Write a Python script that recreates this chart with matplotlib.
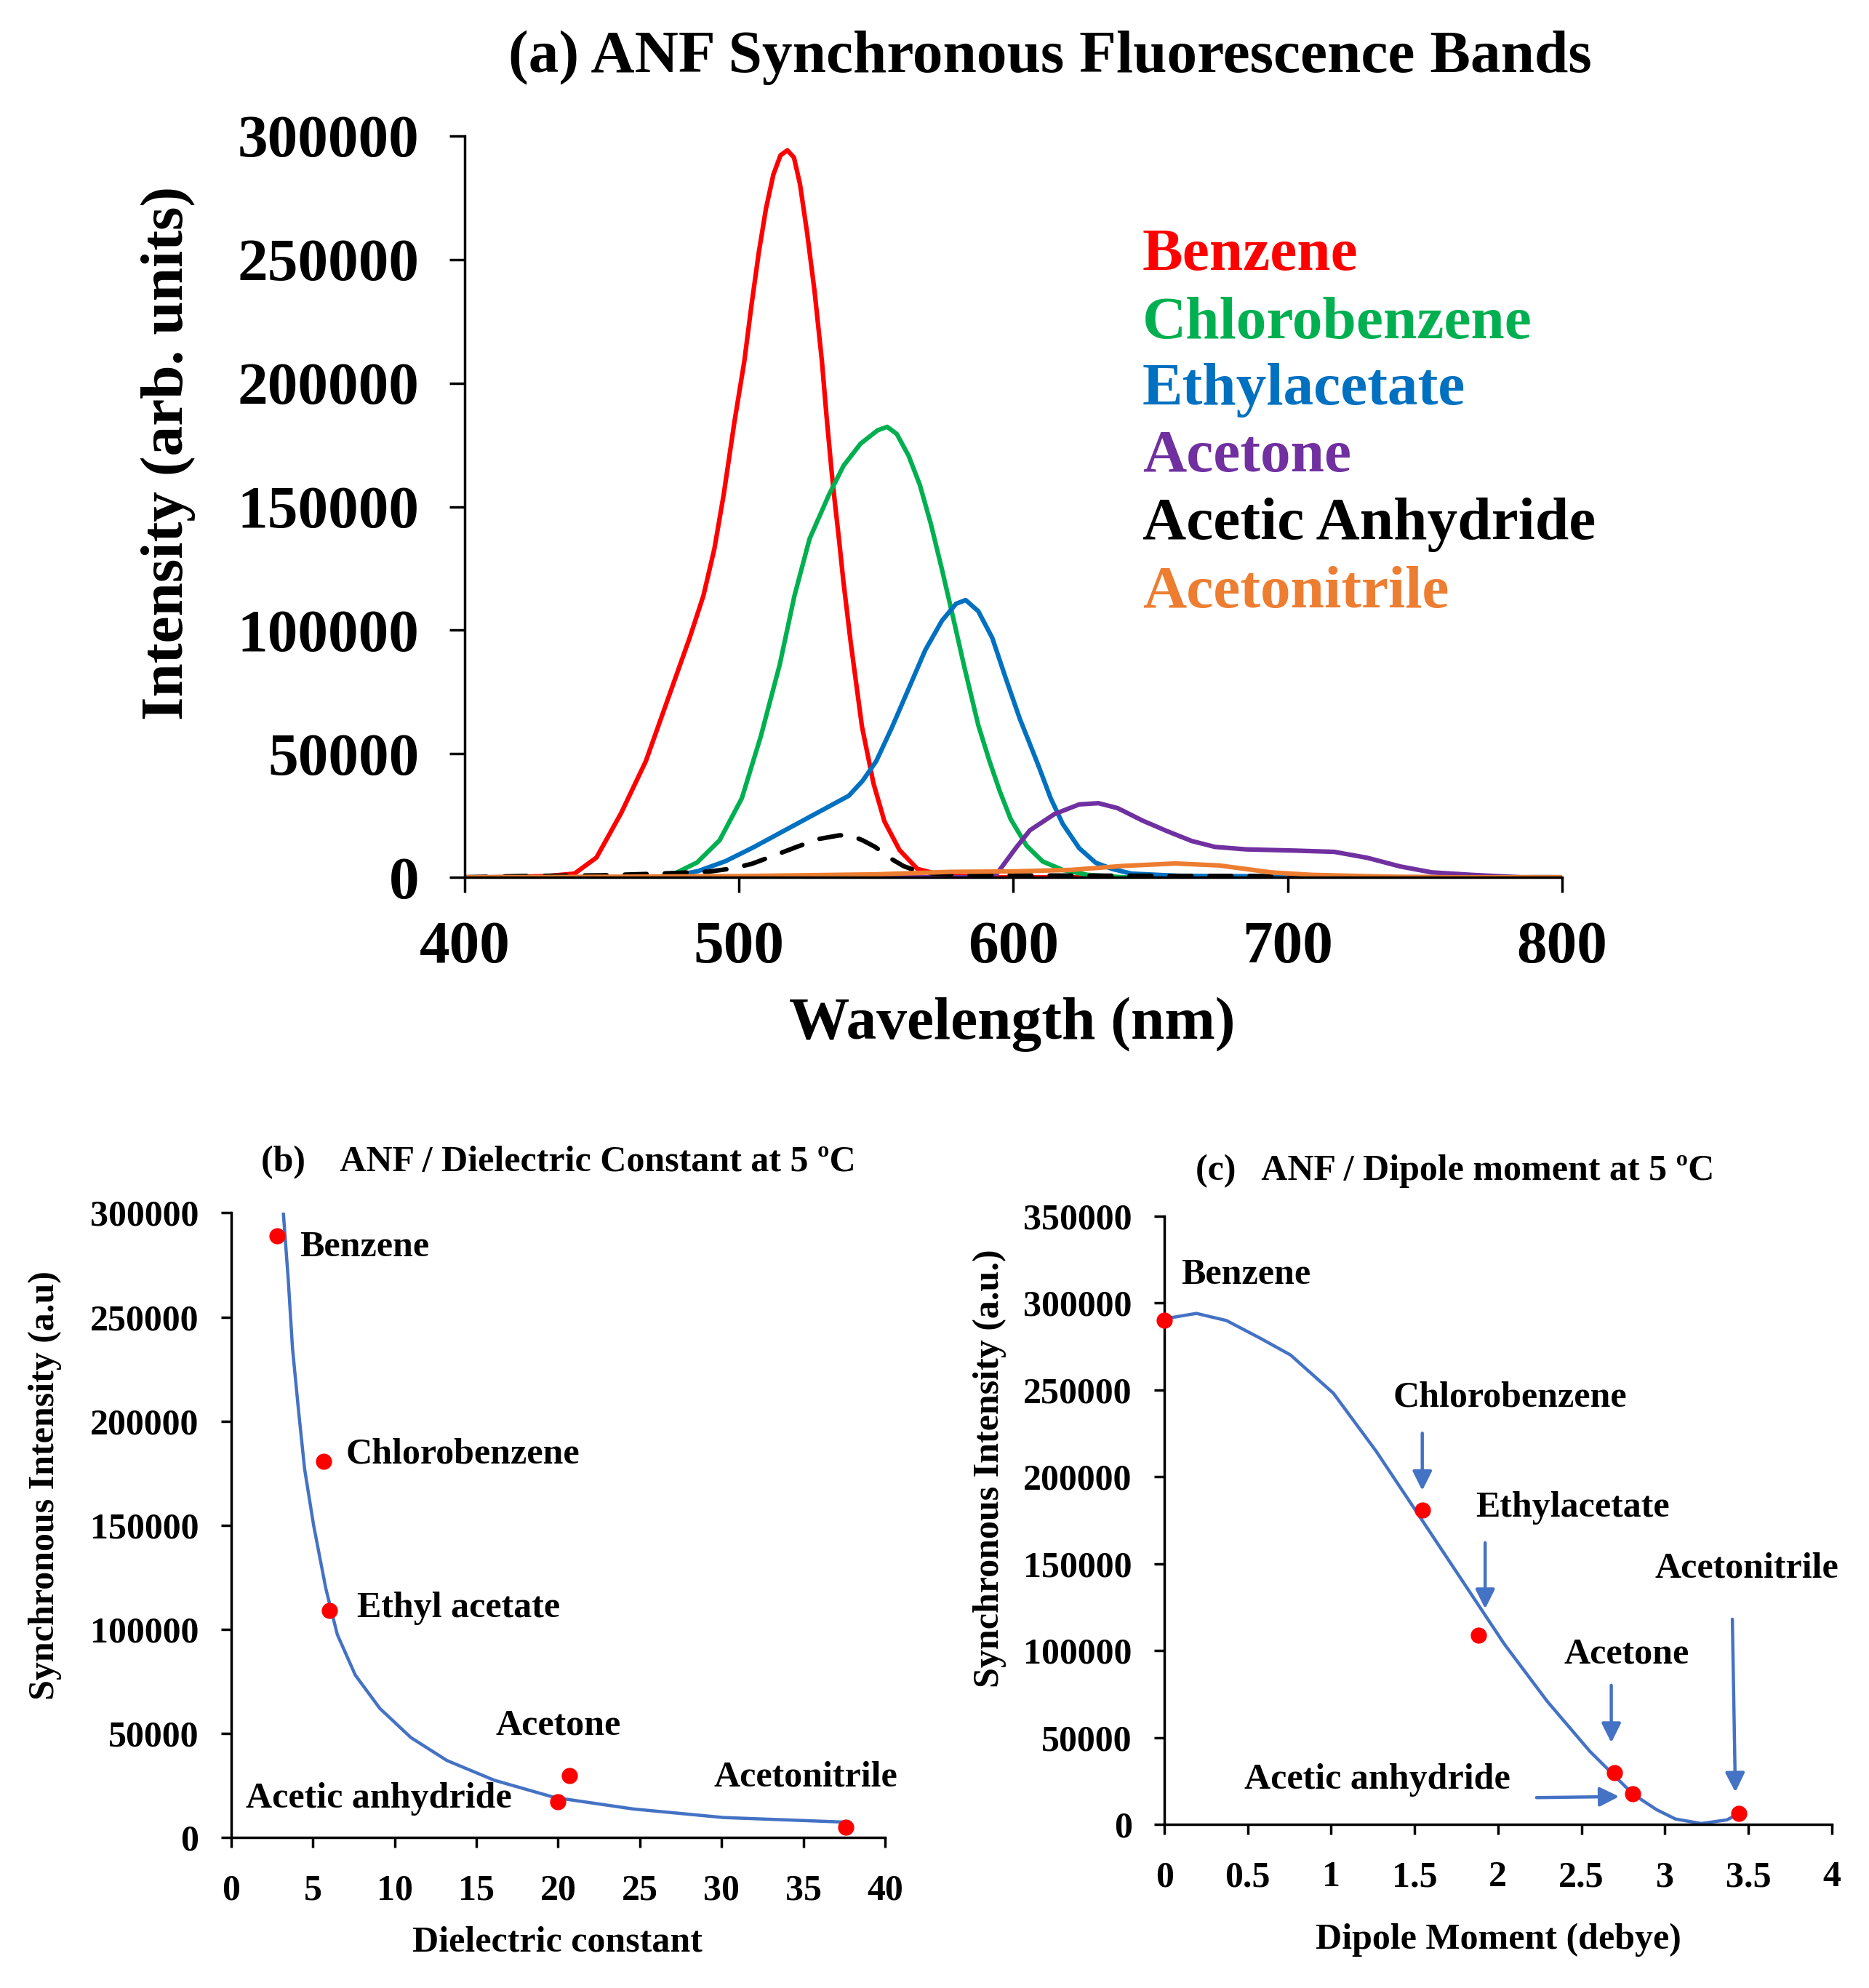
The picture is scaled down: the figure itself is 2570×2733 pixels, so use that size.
import matplotlib
matplotlib.use('Agg')
import matplotlib.pyplot as plt
import numpy as np

plt.rcParams['font.family'] = ['Liberation Serif', 'DejaVu Serif']
plt.rcParams['font.weight'] = 'bold'

# (a) synchronous fluorescence bands
benz_wl = [400, 410, 430, 440, 448, 457, 466, 474, 482, 487, 491, 494.4, 498.3, 501.9, 504.5,
           507.2, 509.8, 512.5, 515.1, 517.6, 520.0, 522.2, 524.8, 527.5, 530.2, 531.9, 533.7,
           534.6, 536.5, 538, 540.7, 544.8, 549, 553, 558.5, 565, 573.5, 590, 800]
benz_int = [0, 0, 500, 1500, 8000, 26000, 47000, 72000, 97000, 114000, 133000, 155000, 184300,
            208800, 231400, 253000, 270600, 284400, 292200, 294200, 291300, 280500, 260800,
            237300, 208800, 186300, 164700, 154900, 136000, 120000, 95000, 61000, 38000, 22600,
            11000, 3400, 1000, 0, 0]

chlo_wl = [400, 470, 476.5, 484.7, 492.9, 501, 507.9, 514.8, 520.2, 525.7, 532.8, 538.1, 544.3,
           550.5, 554.0, 557.5, 561.8, 565.9, 569.9, 574.0, 578.1, 582.1, 587.2, 591.3, 595,
           599, 604.8, 610.7, 618, 627, 640, 800]
chlo_int = [0, 0, 1500, 6000, 15000, 32000, 57000, 86000, 114000, 137000, 154900, 166600,
            175500, 180900, 182300, 179400, 170600, 158800, 143100, 124400, 104800, 85200,
            61600, 47000, 35000, 23600, 12800, 6400, 3000, 1000, 0, 0]

ethy_wl = [400, 470, 476, 485, 495, 505, 515, 525, 535, 540, 545, 550, 555.7, 561.8, 567.9,
           574.0, 579.1, 582.6, 587.2, 592.3, 597.3, 602.4, 606, 609.2, 613.6, 618, 624, 630,
           636, 643, 660, 690, 700, 800]
ethy_int = [0, 0, 500, 2500, 6500, 12000, 18000, 24000, 30000, 33000, 39000, 47000, 60600,
            76300, 92000, 103900, 110700, 112200, 107700, 96900, 80300, 64000, 54000, 45000,
            32000, 21600, 11800, 5900, 3400, 1500, 600, 400, 0, 0]

acet_wl = [400, 590, 594, 601, 606, 615, 624, 631, 638, 647, 656, 665, 673.5, 685, 703, 717,
           729, 741, 752.5, 767, 785, 800]
acet_int = [0, 0, 1500, 12000, 19000, 25600, 29500, 30000, 28000, 23000, 18700, 14700, 12300,
            11300, 10800, 10300, 7900, 4400, 2000, 1000, 0, 0]

anhy_wl = [400, 420, 450, 471, 489, 497, 504.5, 512, 521, 529, 536.6, 541, 545, 549.6, 555.6,
           560, 565, 571, 590, 650, 690, 700, 800]
anhy_int = [0, 500, 800, 1500, 2300, 3500, 5400, 8500, 12300, 15500, 17000, 16800, 15000,
            12300, 7400, 4500, 2500, 1500, 800, 600, 500, 0, 0]

nitr_wl = [400, 450, 500, 550, 577, 600, 621, 640, 659, 675, 694, 708.6, 720, 740, 760, 800]
nitr_int = [0, 200, 500, 1200, 2200, 2400, 3000, 4600, 5600, 4800, 2000, 1000, 700, 200, 0, 0]

solvents_a = ['Benzene', 'Chlorobenzene', 'Ethylacetate', 'Acetone', 'Acetic Anhydride',
              'Acetonitrile']
colors_a = ['#FF0000', '#00B050', '#0070C0', '#7030A0', '#000000', '#ED7D31']

# (b) intensity vs dielectric constant
diel = [2.8, 5.65, 6.0, 20.7, 20.0, 37.6]
diel_int = [289000, 180500, 109000, 29700, 17000, 5000]
diel_fit_x = [3.2, 3.5, 3.76, 4.13, 4.5, 5.05, 5.8, 6.5, 7.6, 9.1, 11, 13.2, 16.1, 19.8, 24.6,
              30.1, 37.5]
diel_fit_y = [300000, 268000, 235000, 205000, 177000, 150000, 119500, 97500, 78000, 62000,
              48000, 37000, 27500, 19200, 13700, 9600, 7400]
labels_b = ['Benzene', 'Chlorobenzene', 'Ethyl acetate', 'Acetone', 'Acetic anhydride',
            'Acetonitrile']

# (c) intensity vs dipole moment
dip = [0.0, 1.546, 1.885, 2.697, 2.808, 3.444]
dip_int = [289800, 180800, 108900, 29800, 17500, 6200]
dip_fit_x = [0, 0.192, 0.372, 0.577, 0.756, 1.013, 1.269, 1.526, 1.782, 2.038, 2.295, 2.551,
             2.808, 2.95, 3.064, 3.218, 3.372, 3.449]
dip_fit_y = [290800, 293900, 289800, 279500, 270000, 248000, 214700, 177700, 140700, 103700,
             70800, 42000, 17500, 8500, 3100, 500, 2600, 6400]
labels_c = ['Benzene', 'Chlorobenzene', 'Ethylacetate', 'Acetone', 'Acetic anhydride',
            'Acetonitrile']

fig = plt.figure(figsize=(25.7, 27.33), dpi=100)


def style_axes(ax, lw, tlen, pad_x, pad_y, fsize):
    for s in ['top', 'right']:
        ax.spines[s].set_visible(False)
    for s in ['left', 'bottom']:
        ax.spines[s].set_linewidth(lw)
    ax.tick_params(axis='both', direction='out', width=lw, length=tlen, labelsize=fsize)
    ax.tick_params(axis='x', pad=pad_x)
    ax.tick_params(axis='y', pad=pad_y)
    for lab in ax.get_xticklabels() + ax.get_yticklabels():
        lab.set_fontweight('bold')


# ---------- (a) ----------
ax1 = fig.add_axes([0.2487, 0.5587, 0.587, 0.3729])
series = [(benz_wl, benz_int), (chlo_wl, chlo_int), (ethy_wl, ethy_int),
          (acet_wl, acet_int), (anhy_wl, anhy_int), (nitr_wl, nitr_int)]
for (wl, it), name, c in zip(series, solvents_a, colors_a):
    if name == 'Acetic Anhydride':
        ax1.plot(wl, it, color=c, lw=4.5, dashes=(4.8, 4.0), dash_capstyle='round')
    else:
        ax1.plot(wl, it, color=c, lw=4.5, solid_joinstyle='round')
ax1.set_xlim(400, 800)
ax1.set_ylim(0, 300000)
ax1.set_xticks(np.arange(400, 801, 100))
ax1.set_yticks(np.arange(0, 300001, 50000))
style_axes(ax1, 2.5, 15, 28, 30, 60)

leg_y = [251500, 224000, 197000, 170000, 142500, 115000]
for name, c, yy in zip(solvents_a, colors_a, leg_y):
    ax1.text(647, yy, name, color=c, fontsize=60, fontweight='bold', va='center', ha='left')

fig.text(0.5619, 0.9711, '(a) ANF Synchronous Fluorescence Bands', fontsize=60,
         fontweight='bold', ha='center', va='center')
fig.text(0.0899, 0.772, 'Intensity (arb. units)', fontsize=60, fontweight='bold',
         rotation=90, ha='center', va='center')
fig.text(0.5416, 0.4848, 'Wavelength (nm)', fontsize=60, fontweight='bold',
         ha='center', va='center')

# ---------- (b) ----------
ax2 = fig.add_axes([0.1236, 0.0757, 0.35, 0.3142])
ax2.plot(diel_fit_x, diel_fit_y, color='#4472C4', lw=3.2, solid_joinstyle='round')
ax2.plot(diel, diel_int, 'o', color='#FF0000', ms=15, zorder=3, clip_on=False)
ax2.set_xlim(0, 40)
ax2.set_ylim(0, 300000)
ax2.set_xticks(np.arange(0, 41, 5))
ax2.set_yticks(np.arange(0, 300001, 50000))
style_axes(ax2, 2.5, 10, 26, 22, 36)

pos_b = [(4.2, 283500), (7.0, 184000), (7.7, 110000), (16.2, 53600), (0.9, 18700),
         (29.5, 28800)]
for lab, (px, py) in zip(labels_b, pos_b):
    ax2.text(px, py, lab, fontsize=36, fontweight='bold', ha='left', va='center')

fig.text(0.1397, 0.4153, '(b)    ANF / Dielectric Constant at 5 \u00baC', fontsize=36,
         fontweight='bold', ha='left', va='center')
fig.text(0.0241, 0.2528, 'Synchronous Intensity (a.u)', fontsize=36, fontweight='bold',
         rotation=90, ha='center', va='center')
fig.text(0.2984, 0.0227, 'Dielectric constant', fontsize=36, fontweight='bold',
         ha='center', va='center')

# ---------- (c) ----------
ax3 = fig.add_axes([0.623, 0.0823, 0.357, 0.3061])
ax3.plot(dip_fit_x, dip_fit_y, color='#4472C4', lw=3.2, solid_joinstyle='round')
ax3.plot(dip, dip_int, 'o', color='#FF0000', ms=15, zorder=3, clip_on=False)
ax3.set_xlim(0, 4)
ax3.set_ylim(0, 350000)
ax3.set_xticks(np.arange(0, 4.01, 0.5))
ax3.set_xticklabels(['0', '0.5', '1', '1.5', '2', '2.5', '3', '3.5', '4'])
ax3.set_yticks(np.arange(0, 350001, 50000))
style_axes(ax3, 2.5, 10, 26, 22, 36)

pos_c = [(0.1, 315800), (1.372, 245600), (1.867, 181900), (2.397, 97600), (0.479, 25700),
         (2.94, 147000)]
for lab, (px, py) in zip(labels_c, pos_c):
    ax3.text(px, py, lab, fontsize=36, fontweight='bold', ha='left', va='center')

arrows_c = [((1.546, 225000), (1.546, 192000)),
            ((1.923, 162000), (1.923, 124000)),
            ((2.679, 80000), (2.679, 47000)),
            ((3.405, 118000), (3.423, 18500)),
            ((2.231, 15400), (2.726, 16000))]
for tail, head in arrows_c:
    ax3.annotate('', xy=head, xytext=tail,
                 arrowprops=dict(arrowstyle='-|>', color='#4472C4', lw=3.2,
                                 mutation_scale=40, shrinkA=0, shrinkB=0))

fig.text(0.6397, 0.4109, '(c)   ANF / Dipole moment at 5 \u00baC', fontsize=36,
         fontweight='bold', ha='left', va='center')
fig.text(0.5296, 0.2612, 'Synchronous Intensity (a.u.)', fontsize=36, fontweight='bold',
         rotation=90, ha='center', va='center')
fig.text(0.8016, 0.0241, 'Dipole Moment (debye)', fontsize=36, fontweight='bold',
         ha='center', va='center')

fig.savefig('out.png', dpi=100)
